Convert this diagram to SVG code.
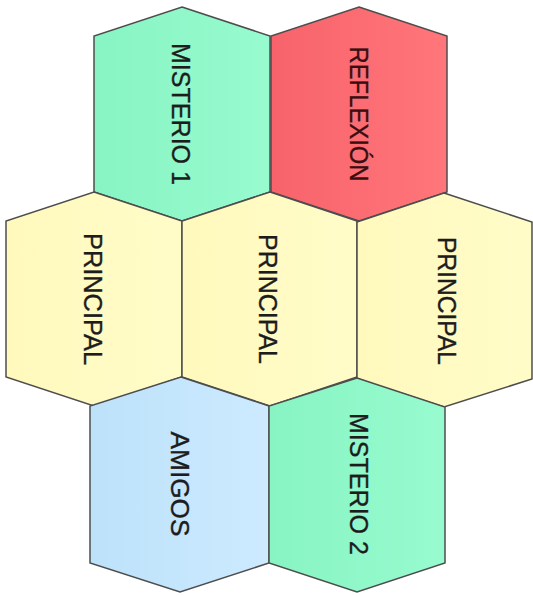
<svg xmlns="http://www.w3.org/2000/svg" width="533" height="596" viewBox="0 0 533 596">
  <defs>
    <linearGradient id="gMint" x1="0" y1="0" x2="1" y2="0">
      <stop offset="0" stop-color="#88f4c3"/>
      <stop offset="1" stop-color="#97fbcf"/>
    </linearGradient>
    <linearGradient id="gRed" x1="0" y1="0" x2="1" y2="0">
      <stop offset="0" stop-color="#f8636b"/>
      <stop offset="1" stop-color="#ff767a"/>
    </linearGradient>
    <linearGradient id="gYellow" x1="0" y1="0" x2="1" y2="0">
      <stop offset="0" stop-color="#fff9bd"/>
      <stop offset="1" stop-color="#fffcc8"/>
    </linearGradient>
    <linearGradient id="gBlue" x1="0" y1="0" x2="1" y2="0">
      <stop offset="0" stop-color="#bce2fa"/>
      <stop offset="1" stop-color="#cdeaff"/>
    </linearGradient>
  </defs>
  <style>
    .hex { stroke: #4d4d4d; stroke-width: 1.5; stroke-linejoin: miter; }
    .lbl { font-family: "Liberation Sans", Arial, sans-serif; font-size: 26px; fill: #1c1c1c; stroke: #1c1c1c; stroke-width: 0.35; text-anchor: middle; }
    .lbl-red { fill: #3a0d10; stroke: #3a0d10; }
  </style>
  <rect width="533" height="596" fill="#ffffff"/>

  <!-- top row -->
  <g id="misterio1">
    <polygon class="hex" fill="url(#gMint)" points="182,7 270,36 270,192 182,221 94,192 94,36"/>
    <text class="lbl" transform="translate(181,114) rotate(90)" x="0" y="9.5" textLength="142" lengthAdjust="spacingAndGlyphs">MISTERIO 1</text>
  </g>
  <g id="reflexion">
    <polygon class="hex" fill="url(#gRed)" points="359,7 447,36 447,192 359,221 271,192 271,36"/>
    <text class="lbl lbl-red" transform="translate(359,114) rotate(90)" x="0" y="9.5" textLength="135" lengthAdjust="spacingAndGlyphs">REFLEXIÓN</text>
  </g>

  <!-- middle row -->
  <g id="principal-left">
    <polygon class="hex" fill="url(#gYellow)" points="94,192 182,221 182,377 94,406 6,377 6,221"/>
    <text class="lbl" transform="translate(93,299) rotate(90)" x="0" y="9.5" textLength="132" lengthAdjust="spacingAndGlyphs">PRINCIPAL</text>
  </g>
  <g id="principal-center">
    <polygon class="hex" fill="url(#gYellow)" points="270,192 357,221 357,377 270,406 182,377 182,221"/>
    <text class="lbl" transform="translate(268,299) rotate(90)" x="0" y="9.5" textLength="130" lengthAdjust="spacingAndGlyphs">PRINCIPAL</text>
  </g>
  <g id="principal-right">
    <polygon class="hex" fill="url(#gYellow)" points="444,193 532,222 532,379 444,407 357,379 357,222"/>
    <text class="lbl" transform="translate(447,301) rotate(90)" x="0" y="9.5" textLength="128" lengthAdjust="spacingAndGlyphs">PRINCIPAL</text>
  </g>

  <!-- bottom row -->
  <g id="amigos">
    <polygon class="hex" fill="url(#gBlue)" points="181,377 269,406 269,563 180,592 90,563 90,406"/>
    <text class="lbl" transform="translate(180,484) rotate(90)" x="0" y="9.5" textLength="105" lengthAdjust="spacingAndGlyphs">AMIGOS</text>
  </g>
  <g id="misterio2">
    <polygon class="hex" fill="url(#gMint)" points="357,378 445,407 445,563 357,592 269,563 269,406"/>
    <text class="lbl" transform="translate(359,484) rotate(90)" x="0" y="9.5" textLength="142" lengthAdjust="spacingAndGlyphs">MISTERIO 2</text>
  </g>

  <!-- no connectors in this layout -->
  <g id="connectors"/>
</svg>
